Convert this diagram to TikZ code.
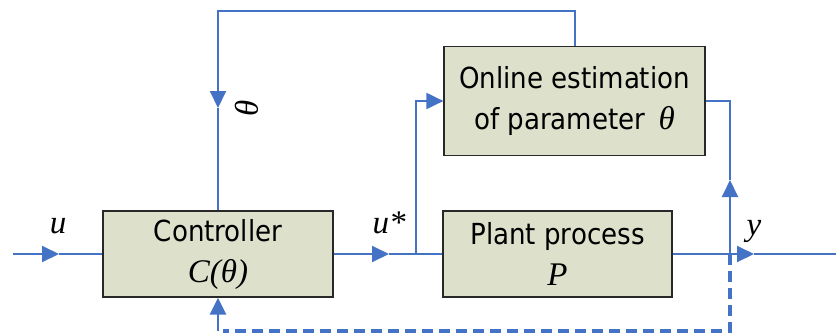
\documentclass[tikz,border=0pt]{standalone}
\usepackage{fontspec}
\setmainfont{DejaVu Sans Condensed}
\newfontfamily\tms{Liberation Serif}
\usetikzlibrary{arrows.meta}
\definecolor{flowblue}{RGB}{68,114,196}
\definecolor{boxfill}{RGB}{221,225,204}
\definecolor{boxline}{RGB}{40,40,40}
\tikzset{
  blk/.style={draw=boxline, fill=boxfill, line width=1.2pt, align=center,
    inner sep=0pt, font=\fontsize{29}{41}\selectfont},
  flow/.style={draw=flowblue, line width=2pt},
  arr/.style={-{Triangle[length=17pt,width=16pt]}},
  fb/.style={draw=flowblue, line width=3.5pt, dash pattern=on 11pt off 6pt},
  lbl/.style={font=\tms\itshape\fontsize{33}{33}\selectfont, inner sep=0pt},
}
\begin{document}
\begin{tikzpicture}[x=1pt,y=-1pt]
\useasboundingbox (0,0) rectangle (836,333);

% blocks
\node[blk, minimum width=230pt, minimum height=86pt] (ctrl) at (218,254)
  {Controller\\{\tms\itshape\fontsize{33}{33}\selectfont C(θ)}};
\node[blk, minimum width=229pt, minimum height=86pt] (plant) at (557.5,254)
  {Plant process\\{\tms\itshape\fontsize{33}{33}\selectfont P}};
\node[blk, minimum width=261pt, minimum height=109pt] (est) at (574.5,101)
  {Online estimation\\of parameter\, {\tms\itshape\fontsize{33}{33}\selectfont θ}};

% helper points
\coordinate (in) at (13,254);
\coordinate (j) at (416,254);
\coordinate (out) at (836,254);
\coordinate (ytap) at (730,254);
\coordinate (top) at (0,11);
\coordinate (thA) at (0,108);
\coordinate (bot) at (0,331);

% input u
\draw[flow,arr] (in) -- (59,254) coordinate (inA);
\draw[flow] (inA) -- (ctrl.west);

% controller output u*
\draw[flow,arr] (ctrl.east) -- (389,254) coordinate (uA);
\draw[flow] (uA) -- (plant.west);
\draw[flow,arr] (j) |- (est.west);

% estimated parameter back to the controller
\draw[flow,arr] (est.north) |- (ctrl.north |- top) -- (ctrl.north |- thA);
\draw[flow] (ctrl.north |- thA) -- (ctrl.north);

% plant output y
\draw[flow,arr] (plant.east) -- (754,254) coordinate (yA);
\draw[flow] (yA) -- (out);

% y into the estimator
\draw[flow,arr] (ytap) -- (730,180) coordinate (eA);
\draw[flow] (eA) |- (est.east);

% dashed feedback of y
\draw[fb] (ytap) -- (ytap |- bot) -- (223,331);
\draw[flow, line width=2.8pt, arr] (ctrl.south |- bot) -- (ctrl.south);

% labels
\node[lbl, anchor=base] (lu) at (58,233) {u};
\node[lbl, anchor=base] (lus) at (389,233) {u*};
\node[lbl, anchor=base] (ly) at (754,235) {y};
\node[lbl, rotate=-90] (lth) at (247,108) {θ};
\end{tikzpicture}
\end{document}
